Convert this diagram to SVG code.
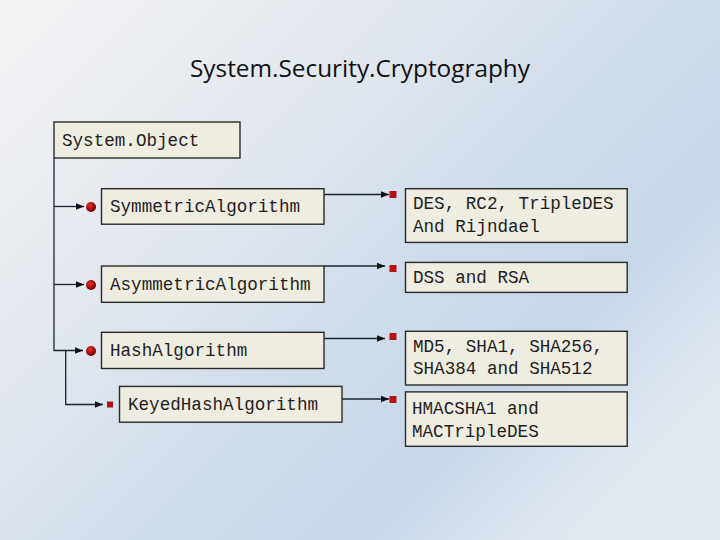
<svg xmlns="http://www.w3.org/2000/svg" width="720" height="540" viewBox="0 0 720 540">
<defs>
<linearGradient id="bg" x1="0" y1="0" x2="1" y2="0.75">
<stop offset="0" stop-color="#f4f4f5"/>
<stop offset="0.35" stop-color="#e3e8ef"/>
<stop offset="0.6" stop-color="#cfdcea"/>
<stop offset="0.8" stop-color="#c8d7e9"/>
<stop offset="1" stop-color="#e4eaf1"/>
</linearGradient>
<radialGradient id="ball" cx="0.4" cy="0.35" r="0.65">
<stop offset="0" stop-color="#e23030"/>
<stop offset="0.6" stop-color="#a80f10"/>
<stop offset="1" stop-color="#5a0505"/>
</radialGradient>
<marker id="arr" markerUnits="userSpaceOnUse" markerWidth="8" markerHeight="8" viewBox="0 0 8 8" refX="8" refY="4" orient="auto">
<path d="M0,0.8 L8,4 L0,7.2 Z" fill="#111"/>
</marker>
</defs>
<style>
.box{fill:#efece2;stroke:#2a2a2a;stroke-width:1.4}
.t{font-family:"Liberation Mono","Courier New",monospace;font-size:17.6px;fill:#1e1e1e}
.c{fill:none;stroke:#1a2533;stroke-width:1.3}
.sq{fill:#b31314}
</style>
<rect x="0" y="0" width="720" height="540" fill="url(#bg)"/>
<text x="360" y="77" text-anchor="middle" font-family="'Open Sans','Liberation Sans',sans-serif" font-size="24" fill="#111" textLength="340" lengthAdjust="spacingAndGlyphs">System.Security.Cryptography</text>

<g id="connectors">
<path class="c" d="M54,158 V350.5 H83" marker-end="url(#arr)"/>
<path class="c" d="M54,206.5 H84" marker-end="url(#arr)"/>
<path class="c" d="M54,284.5 H84" marker-end="url(#arr)"/>
<path class="c" d="M65.7,350.5 V404.5 H103" marker-end="url(#arr)"/>
<path class="c" d="M324,194.5 H389" marker-end="url(#arr)"/>
<path class="c" d="M324,266 H385" marker-end="url(#arr)"/>
<path class="c" d="M324,338.5 H385" marker-end="url(#arr)"/>
<path class="c" d="M342,399 H389" marker-end="url(#arr)"/>
<circle cx="91" cy="207" r="5" fill="url(#ball)"/>
<circle cx="91" cy="285" r="5" fill="url(#ball)"/>
<circle cx="91" cy="351" r="5" fill="url(#ball)"/>
<rect class="sq" x="107" y="401.5" width="6" height="6"/>
<rect class="sq" x="389.5" y="191" width="7" height="7"/>
<rect class="sq" x="389.5" y="265" width="7" height="7"/>
<rect class="sq" x="389.5" y="333" width="7" height="7"/>
<rect class="sq" x="389.5" y="396" width="7" height="7"/>
</g>

<g id="system-object">
<rect class="box" x="54" y="122" width="186" height="36"/>
<text class="t" x="62" y="146">System.Object</text>
</g>
<g id="symmetric">
<rect class="box" x="101.5" y="188.7" width="222.5" height="35.5"/>
<text class="t" x="110" y="212">SymmetricAlgorithm</text>
</g>
<g id="asymmetric">
<rect class="box" x="101.5" y="266" width="222.5" height="36.3"/>
<text class="t" x="110" y="290">AsymmetricAlgorithm</text>
</g>
<g id="hash">
<rect class="box" x="101.5" y="332.3" width="222.5" height="36.2"/>
<text class="t" x="110" y="356">HashAlgorithm</text>
</g>
<g id="keyedhash">
<rect class="box" x="119.5" y="386.4" width="222.5" height="35.8"/>
<text class="t" x="128" y="410">KeyedHashAlgorithm</text>
</g>
<g id="des">
<rect class="box" x="405.5" y="188.7" width="221.7" height="53.7"/>
<text class="t" x="413" y="209">DES, RC2, TripleDES</text>
<text class="t" x="413" y="232">And Rijndael</text>
</g>
<g id="dss">
<rect class="box" x="405.5" y="262.4" width="221.7" height="30"/>
<text class="t" x="413" y="283">DSS and RSA</text>
</g>
<g id="md5">
<rect class="box" x="405.5" y="331.3" width="221.7" height="53.7"/>
<text class="t" x="413" y="352">MD5, SHA1, SHA256,</text>
<text class="t" x="413" y="374">SHA384 and SHA512</text>
</g>
<g id="hmac">
<rect class="box" x="405.5" y="391.9" width="221.7" height="54.4"/>
<text class="t" x="412" y="414">HMACSHA1 and</text>
<text class="t" x="412" y="437">MACTripleDES</text>
</g>
</svg>
